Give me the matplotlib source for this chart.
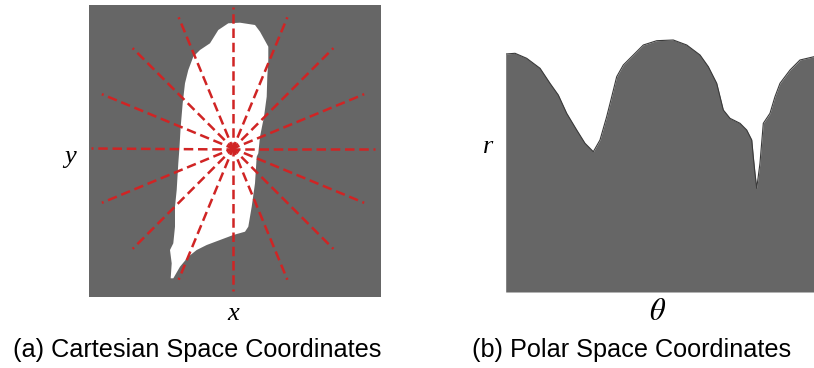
import numpy as np
import matplotlib.pyplot as plt

W, H = 814, 368

# outline of the white region (image pixels)
blob_x = [228.3, 240, 255, 260, 268.3, 268.3, 267.3, 266.7, 264, 260, 258.3, 256.7,
          255, 251.7, 248.3, 245, 233.3, 220, 206.7, 196.7, 188.3, 180, 173.3, 170.7,
          171.7, 170, 173.3, 175, 175, 176.7, 178.3, 179.3, 180.7, 182.7, 185, 188.3,
          193.3, 200, 210, 218.3]
blob_y = [23.3, 22.7, 25, 31.7, 46.7, 60, 76.7, 96.7, 116.7, 136.7, 153.3, 156.7,
          183.3, 206.7, 226.7, 231.7, 235, 240, 245, 250, 256.7, 266.7, 278.3, 278.3,
          263.3, 250, 243.3, 226.7, 206.7, 190, 163.3, 150, 126.7, 103.3, 83.3, 70,
          56.7, 50, 43.3, 30]
center = (233, 148.5)
ray_angles = np.arange(0, 360, 22.5)
ray_len = 142

# boundary radius vs angle
theta = [0, 10.9, 24.5, 40.1, 51.7, 61.4, 71.2, 82.9, 92.6, 102.3, 110.1, 117.9,
         123.8, 129.6, 137.3, 149, 160.7, 176.3, 195.7, 211.4, 226.9, 236.6, 246.4,
         254.1, 261.9, 273.6, 281.4, 287.3, 289.1, 291.1, 293.1, 296.9, 300.8, 308.6,
         314.4, 320.3, 332, 343.6, 360]
radius = [238, 238.7, 233.7, 223.7, 208.7, 197, 178.7, 162, 148.7, 140.3, 152, 175.3,
          195.3, 215.3, 227, 237, 247, 251.3, 252, 247, 237, 225.3, 208.7, 182, 173.7,
          168.7, 162, 152, 135.3, 118.7, 103.7, 128.7, 168.7, 178.7, 195.3, 208.7,
          222, 232, 235.3]

gray = "#666666"
red = "#d02424"

fig = plt.figure(figsize=(W / 100, H / 100), dpi=100)

# (a) cartesian
ax1 = fig.add_axes([89 / W, (H - 297) / H, 292 / W, 292 / H])
ax1.set_facecolor(gray)
ax1.fill(blob_x, blob_y, color="white", lw=0)
for a in ray_angles:
    t = np.deg2rad(a)
    ax1.plot([center[0], center[0] + ray_len * np.cos(t)],
             [center[1], center[1] - ray_len * np.sin(t)],
             color=red, lw=1.8, ls=(1, (3.8, 1.9)))
ax1.set_xlim(89, 381)
ax1.set_ylim(297, 5)
ax1.set_xticks([])
ax1.set_yticks([])
for s in ax1.spines.values():
    s.set_visible(False)

# (b) polar
ax2 = fig.add_axes([505.7 / W, (H - 292) / H, (814 - 505.7) / W, 262 / H])
ax2.fill_between(theta, 0, radius, color=gray, lw=0)
ax2.plot(theta, radius, color="#3a3a3a", lw=0.8)
ax2.set_xlim(0, 360)
ax2.set_ylim(0, 262)
ax2.set_xticks([])
ax2.set_yticks([])
for s in ax2.spines.values():
    s.set_visible(False)

serif = dict(family="Liberation Serif", style="italic", fontsize=19,
             ha="center", va="center")
fig.text(70 / W, 1 - 157 / H, "y", **serif)
fig.text(233 / W, 1 - 314 / H, "x", **serif)
fig.text(488 / W, 1 - 147 / H, "r", **serif)
fig.text(658 / W, 1 - 311 / H, r"$\mathit{\theta}$", fontsize=22, ha="center",
         va="center", math_fontfamily="stix")

cap = dict(family="Liberation Sans", fontsize=18.2, ha="center", va="center")
fig.text(197 / W, 1 - 350 / H, "(a) Cartesian Space Coordinates", **cap)
fig.text(632 / W, 1 - 350 / H, "(b) Polar Space Coordinates", **cap)

fig.savefig("out.png", dpi=100, facecolor="white")
